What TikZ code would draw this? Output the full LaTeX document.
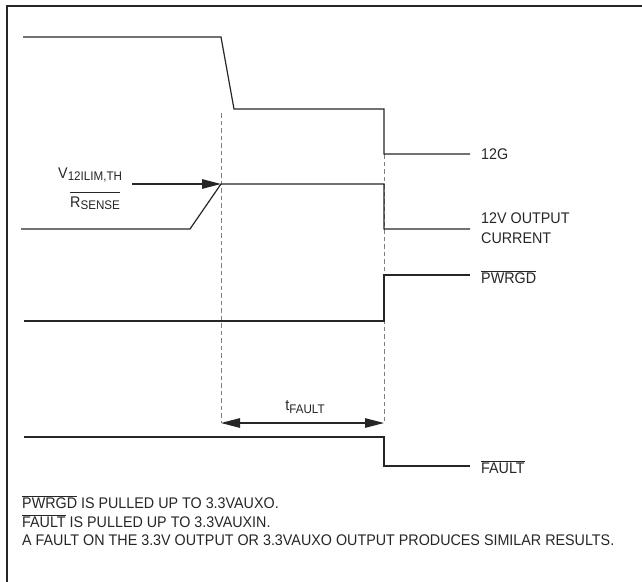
\documentclass[tikz,border=0pt]{standalone}
\usepackage{fontspec}
\setmainfont{Liberation Sans}[FakeStretch=0.93]
\usetikzlibrary{arrows.meta}
\newcommand\ovl[1]{$\overline{\hbox{#1}}$}
\newcommand\sbs[1]{\raisebox{-0.3ex}{\fontsize{12.5}{14}\selectfont #1}}
\begin{document}
\begin{tikzpicture}[x=1pt,y=-1pt,
  sig/.style={line width=1.2pt, black!85},
  frame/.style={line width=1.8pt, black!85},
  guide/.style={line width=0.9pt, gray, dash pattern=on 4.5pt off 3pt},
  tipr/.style={-{Triangle[length=19pt,width=9.5pt]}},
  tipb/.style={{Triangle[length=19pt,width=9.5pt]}-{Triangle[length=19pt,width=9.5pt]}},
  lbl/.style={font=\fontsize{15.4}{20}\selectfont, inner sep=0pt, anchor=west, text=black!85, align=left}]
\useasboundingbox (0,0) rectangle (642,581);
% frame
\coordinate (fbl) at (7,590);
\coordinate (ftl) at (7,6);
\coordinate (ftr) at (650,6);
\draw[frame] (fbl) -- (ftl) -- (ftr);
% guides
\coordinate (d1t) at (221,113);
\coordinate (d1b) at (221,423);
\coordinate (d2t) at (384,154);
\coordinate (d2b) at (384,423);
\draw[guide] (d1t) -- (d1b);
\draw[guide] (d2t) -- (d2b);
% 12G
\node[lbl] (g12) at (481,154) {12G};
\draw[sig] (23,37) -- (221,37) -- (234,109) -- (384,109) -- (384,154) -- (470,154);
% 12V output current
\node[lbl] (cur) at (481,228) {12V OUTPUT\\CURRENT};
\draw[sig] (21,229) -- (190,229) -- (221,184) -- (384,184) -- (384,229) -- (470,229);
% threshold label and arrow
\node[lbl] (vth) at (58,175) {V\sbs{12ILIM,TH}};
\node[lbl] (rs) at (70,203) {R\sbs{SENSE}};
\draw[line width=0.8pt, black!85] ([yshift=3.5pt]rs.north west) -- ([yshift=3.5pt]rs.north east);
\coordinate (as) at (132,184);
\coordinate (ae) at (221,184);
\draw[sig, tipr] (as) -- (ae);
% PWRGD
\node[lbl] (pg) at (481,277) {\ovl{PWRGD}};
\draw[sig] (24,321) -- (384,321) -- (384,275) -- (470,275);
% tFAULT
\node[lbl, anchor=center] (tf) at (305,407) {t\sbs{FAULT}};
\draw[sig, tipb] (d1b) -- (d2b);
% FAULT
\node[lbl] (fl) at (481,467) {\ovl{FAULT}};
\draw[sig] (24,437) -- (384,437) -- (384,466) -- (470,466);
% notes
\node[lbl] (n1) at (22,502) {\ovl{PWRGD} IS PULLED UP TO 3.3VAUXO.};
\node[lbl] (n2) at (22,521) {\ovl{FAULT} IS PULLED UP TO 3.3VAUXIN.};
\node[lbl] (n3) at (22,540) {A FAULT ON THE 3.3V OUTPUT OR 3.3VAUXO OUTPUT PRODUCES SIMILAR RESULTS.};
\end{tikzpicture}
\end{document}
